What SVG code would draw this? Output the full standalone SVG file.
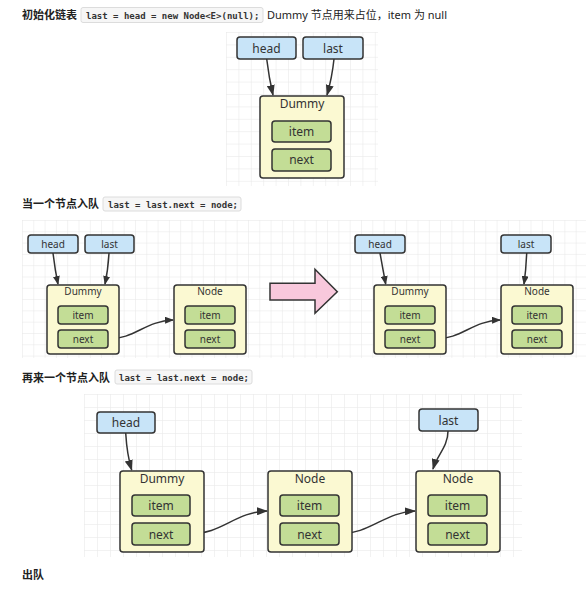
<svg xmlns="http://www.w3.org/2000/svg" width="586" height="598" viewBox="0 0 586 598">
<defs>
<pattern id="g1" patternUnits="userSpaceOnUse" x="226" y="32" width="12.4" height="12.4"><path d="M12.4 0H0V12.4" fill="none" stroke="#e6e6e6" stroke-width="1"/></pattern>
<pattern id="g2" patternUnits="userSpaceOnUse" x="22" y="220" width="11.3" height="11.3"><path d="M11.3 0H0V11.3" fill="none" stroke="#e6e6e6" stroke-width="1"/></pattern>
<pattern id="g3" patternUnits="userSpaceOnUse" x="84" y="394" width="13" height="13"><path d="M13 0H0V13" fill="none" stroke="#e6e6e6" stroke-width="1"/></pattern>
<marker id="ah" markerUnits="userSpaceOnUse" markerWidth="11" markerHeight="8" refX="10" refY="4" orient="auto"><path d="M0,0 L11,4 L0,8 z" fill="#333"/></marker>
<marker id="ahs" markerUnits="userSpaceOnUse" markerWidth="9" markerHeight="7" refX="8" refY="3.5" orient="auto"><path d="M0,0 L9,3.5 L0,7 z" fill="#333"/></marker>
</defs>
<style>
.title{font-family:"Noto Sans CJK SC",sans-serif;font-size:11px;font-weight:bold;fill:#222}
.txt{font-family:"Noto Sans","Noto Sans CJK SC",sans-serif;font-size:11px;fill:#222}
.code{font-family:"DejaVu Sans Mono","Liberation Mono",monospace;font-size:9px;font-weight:bold;fill:#333}
.cbox{fill:#f6f6f6;stroke:#dcdcdc;stroke-width:1}
.ptr{fill:#c8e4f8;stroke:#333;stroke-width:1.5}
.nd{fill:#fbf9d2;stroke:#333;stroke-width:1.5}
.fld{fill:#c3dd96;stroke:#333;stroke-width:1.5}
.lb{font-family:"Noto Sans",sans-serif;fill:#333;text-anchor:middle}
.l12{font-size:12px}
.l10{font-size:10px}
.c{fill:none;stroke:#333;stroke-width:1.5}
</style>

<!-- section 1 -->
<text class="title" x="22" y="19">初始化链表</text>
<rect class="cbox" x="81" y="7.5" width="182" height="15" rx="2"/>
<text class="code" x="86" y="18.5">last = head = new Node&lt;E&gt;(null);</text>
<text class="txt" x="267" y="19" textLength="180" lengthAdjust="spacingAndGlyphs">Dummy 节点用来占位，item 为 null</text>
<rect x="226" y="32" width="152" height="154" fill="url(#g1)"/>

<!-- section 2 -->
<text class="title" x="22" y="208">当一个节点入队</text>
<rect class="cbox" x="103" y="197" width="138" height="14" rx="2"/>
<text class="code" x="108" y="207.5">last = last.next = node;</text>
<rect x="22" y="220" width="564" height="138" fill="url(#g2)"/>

<!-- section 3 -->
<text class="title" x="22" y="382">再来一个节点入队</text>
<rect class="cbox" x="115" y="370" width="137" height="14" rx="2"/>
<text class="code" x="119" y="380.5">last = last.next = node;</text>
<rect x="84" y="394" width="438" height="163" fill="url(#g3)"/>

<text class="title" x="22" y="579">出队</text>

<g id="connectors">
<path class="c" d="M266.7,59 Q269,78 273,95" marker-end="url(#ah)"/>
<path class="c" d="M334,59 Q332,78 327,95" marker-end="url(#ah)"/>
<path class="c" d="M53,253 Q55,270 58,284" marker-end="url(#ahs)"/>
<path class="c" d="M109,253 Q108,270 105,284" marker-end="url(#ahs)"/>
<path class="c" d="M108,339 C135,339 145,321 173,320" marker-end="url(#ahs)"/>
<path class="c" d="M380,253 Q383,270 385.7,284" marker-end="url(#ahs)"/>
<path class="c" d="M526.7,253 Q526,270 524,284" marker-end="url(#ahs)"/>
<path class="c" d="M435,339 C462,339 472,321 500,320" marker-end="url(#ahs)"/>
<path class="c" d="M125.7,433 Q127,455 131.7,470" marker-end="url(#ah)"/>
<path class="c" d="M448,431 C448,447 437,455 433,469" marker-end="url(#ah)"/>
<path class="c" d="M190,534 C222,534 235,512 267,511" marker-end="url(#ah)"/>
<path class="c" d="M339,534 C370,534 385,512 415,511" marker-end="url(#ah)"/>
</g>

<g id="bigarrow">
<polygon points="270,283.3 315,283.3 315,269.3 337.3,291.7 315,313.3 315,300 270,300" fill="#f8c8dc" stroke="#333" stroke-width="1.5" stroke-linejoin="miter"/>
</g>

<!-- section 1 nodes -->
<g id="s1-head"><rect class="ptr" x="237" y="37" width="59" height="22" rx="3"/><text class="lb l12" x="266.5" y="52.5">head</text></g>
<g id="s1-last"><rect class="ptr" x="303" y="37" width="60" height="22" rx="3"/><text class="lb l12" x="333" y="52.5">last</text></g>
<g id="s1-dummy">
<rect class="nd" x="260" y="96" width="84" height="82" rx="3"/><text class="lb l12" x="302" y="108">Dummy</text>
<rect class="fld" x="272" y="121" width="59" height="21" rx="3"/><text class="lb l12" x="301.5" y="135.5">item</text>
<rect class="fld" x="272" y="149" width="59" height="22" rx="3"/><text class="lb l12" x="301.5" y="164">next</text>
</g>

<!-- section 2 nodes -->
<g id="s2a-head"><rect class="ptr" x="28" y="235" width="50" height="18" rx="3"/><text class="lb l10" x="53" y="247.5">head</text></g>
<g id="s2a-last"><rect class="ptr" x="85" y="235" width="49" height="18" rx="3"/><text class="lb l10" x="109.5" y="247.5">last</text></g>
<g id="s2a-dummy">
<rect class="nd" x="47" y="285" width="72" height="69" rx="3"/><text class="lb l10" x="83" y="295">Dummy</text>
<rect class="fld" x="58" y="306" width="50" height="18" rx="3"/><text class="lb l10" x="83" y="318.5">item</text>
<rect class="fld" x="58" y="330" width="50" height="18" rx="3"/><text class="lb l10" x="83" y="342.5">next</text>
</g>
<g id="s2a-node">
<rect class="nd" x="174" y="285" width="72" height="69" rx="3"/><text class="lb l10" x="210" y="295">Node</text>
<rect class="fld" x="185" y="306" width="50" height="18" rx="3"/><text class="lb l10" x="210" y="318.5">item</text>
<rect class="fld" x="185" y="330" width="50" height="18" rx="3"/><text class="lb l10" x="210" y="342.5">next</text>
</g>
<g id="s2b-head"><rect class="ptr" x="355" y="235" width="50" height="18" rx="3"/><text class="lb l10" x="380" y="247.5">head</text></g>
<g id="s2b-last"><rect class="ptr" x="501" y="235" width="50" height="18" rx="3"/><text class="lb l10" x="526" y="247.5">last</text></g>
<g id="s2b-dummy">
<rect class="nd" x="374" y="285" width="72" height="69" rx="3"/><text class="lb l10" x="410" y="295">Dummy</text>
<rect class="fld" x="385" y="306" width="50" height="18" rx="3"/><text class="lb l10" x="410" y="318.5">item</text>
<rect class="fld" x="385" y="330" width="50" height="18" rx="3"/><text class="lb l10" x="410" y="342.5">next</text>
</g>
<g id="s2b-node">
<rect class="nd" x="501" y="285" width="72" height="69" rx="3"/><text class="lb l10" x="537" y="295">Node</text>
<rect class="fld" x="512" y="306" width="50" height="18" rx="3"/><text class="lb l10" x="537" y="318.5">item</text>
<rect class="fld" x="512" y="330" width="50" height="18" rx="3"/><text class="lb l10" x="537" y="342.5">next</text>
</g>

<!-- section 3 nodes -->
<g id="s3-head"><rect class="ptr" x="97" y="412" width="58" height="21" rx="3"/><text class="lb l12" x="126" y="427">head</text></g>
<g id="s3-last"><rect class="ptr" x="419" y="409" width="59" height="22" rx="3"/><text class="lb l12" x="448.5" y="424.5">last</text></g>
<g id="s3-dummy">
<rect class="nd" x="120" y="471" width="84" height="81" rx="3"/><text class="lb l12" x="162" y="482.5">Dummy</text>
<rect class="fld" x="132" y="495" width="58" height="21" rx="3"/><text class="lb l12" x="161" y="510">item</text>
<rect class="fld" x="132" y="523" width="58" height="22" rx="3"/><text class="lb l12" x="161" y="538.5">next</text>
</g>
<g id="s3-node1">
<rect class="nd" x="268" y="471" width="84" height="81" rx="3"/><text class="lb l12" x="310" y="482.5">Node</text>
<rect class="fld" x="280" y="495" width="59" height="21" rx="3"/><text class="lb l12" x="309.5" y="510">item</text>
<rect class="fld" x="280" y="523" width="59" height="22" rx="3"/><text class="lb l12" x="309.5" y="538.5">next</text>
</g>
<g id="s3-node2">
<rect class="nd" x="416" y="471" width="84" height="81" rx="3"/><text class="lb l12" x="458" y="482.5">Node</text>
<rect class="fld" x="428" y="495" width="59" height="21" rx="3"/><text class="lb l12" x="457.5" y="510">item</text>
<rect class="fld" x="428" y="523" width="59" height="22" rx="3"/><text class="lb l12" x="457.5" y="538.5">next</text>
</g>
</svg>
